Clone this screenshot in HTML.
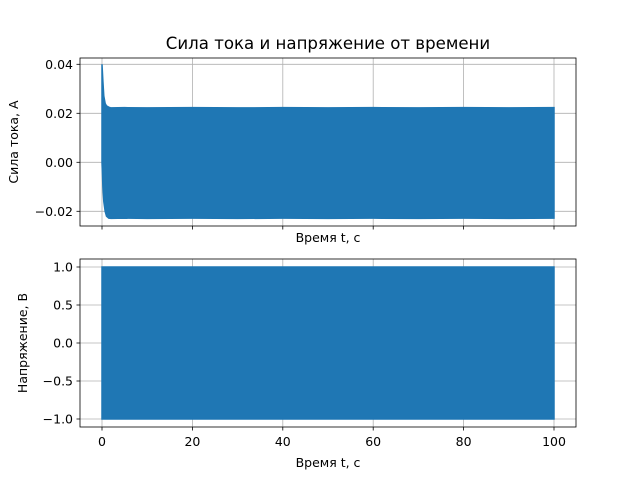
<!DOCTYPE html>
<html><head><meta charset="utf-8"><style>body{margin:0;background:#fff}svg{display:block;font-family:"DejaVu Sans","Liberation Sans",sans-serif}</style></head>
<body>
<svg id="fig" width="640" height="480">
<text x="328" y="49" font-size="16.6" text-anchor="middle">Сила тока и напряжение от времени</text>
<g id="top"></g>
<g id="bot"></g>
</svg>
<script>
const tTimes = [0, 0.2, 0.4, 0.7, 1.0, 1.5, 2, 5, 10, 20, 30, 40, 50, 60, 70, 80, 90, 100];
const currentUpper = [0.040, 0.033, 0.027, 0.024, 0.023, 0.0225, 0.0222, 0.0223, 0.0222, 0.0223, 0.0222, 0.0223, 0.0222, 0.0223, 0.0222, 0.0223, 0.0222, 0.0223];
const currentLower = [0.000, -0.010, -0.016, -0.020, -0.022, -0.0228, -0.0229, -0.0228, -0.0229, -0.0228, -0.0229, -0.0228, -0.0229, -0.0228, -0.0229, -0.0228, -0.0229, -0.0228];
const vTimes = [0, 100];
const voltageUpper = [1, 1];
const voltageLower = [-1, -1];
const xTicks = [0, 20, 40, 60, 80, 100];
const yTicksTop = [0.04, 0.02, 0.00, -0.02];
const yTicksTopLabels = ["0.04", "0.02", "0.00", "\u22120.02"];
const yTicksBot = [1.0, 0.5, 0.0, -0.5, -1.0];
const yTicksBotLabels = ["1.0", "0.5", "0.0", "\u22120.5", "\u22121.0"];

const NS = "http://www.w3.org/2000/svg";
function mk(p, tag, a) { const e = document.createElementNS(NS, tag); for (const k in a) e.setAttribute(k, a[k]); p.appendChild(e); return e; }
const L = 80, R = 576;
const xs = t => 102 + t * 4.52;
const FS = 12.5;

function panel(g, top, bottom, ys, yt, ylab, tx, up, lo, showXLabels, yTitle, yTitleX) {
  for (const t of xTicks) {
    const gl = mk(g, "line", {x1: xs(t), x2: xs(t), y1: top, y2: bottom, stroke: "#b0b0b0", "stroke-width": 0.8});
    
    
  }
  yt.forEach(v => {
    const gl = mk(g, "line", {x1: L, x2: R, y1: ys(v), y2: ys(v), stroke: "#b0b0b0", "stroke-width": 0.8});
    
    
  });
  let d = "";
  tx.forEach((t, i) => d += (i ? "L" : "M") + xs(t) + "," + ys(up[i]));
  for (let i = tx.length - 1; i >= 0; i--) d += "L" + xs(tx[i]) + "," + ys(lo[i]);
  const area = mk(g, "path", {d: d + "Z", fill: "#1f77b4", stroke: "#1f77b4", "stroke-width": 1.5});
  
  
  const fr = mk(g, "rect", {x: L, y: top, width: R - L, height: bottom - top, fill: "none", stroke: "#000", "stroke-width": 0.8});
  
  
  for (const t of xTicks) {
    const tk = mk(g, "line", {x1: xs(t), x2: xs(t), y1: bottom, y2: bottom + 3.5, stroke: "#000", "stroke-width": 0.8});
    
    
    if (showXLabels) {
      const tl = mk(g, "text", {x: xs(t), y: bottom + 19, "font-size": FS, "text-anchor": "middle"});
      tl.textContent = t;
      
      
    }
  }
  yt.forEach((v, i) => {
    const tk = mk(g, "line", {x1: L - 3.5, x2: L, y1: ys(v), y2: ys(v), stroke: "#000", "stroke-width": 0.8});
    
    
    const tl = mk(g, "text", {x: L - 7, y: ys(v) + 4.5, "font-size": FS, "text-anchor": "end"});
    tl.textContent = ylab[i];
    
    
  });
  const xt = mk(g, "text", {x: 328, y: bottom + (showXLabels ? 40 : 16), "font-size": FS, "text-anchor": "middle"});
  xt.textContent = "Время t, с";
  
  
  const cy = (top + bottom) / 2;
  const yT = mk(g, "text", {x: yTitleX, y: cy, "font-size": FS, "text-anchor": "middle", transform: `rotate(-90 ${yTitleX} ${cy})`});
  yT.textContent = yTitle;
  
  
}
panel(document.getElementById("top"), 58, 226, v => 162.3 - v * 2450, yTicksTop, yTicksTopLabels, tTimes, currentUpper, currentLower, false, "Сила тока, А", 18);
panel(document.getElementById("bot"), 259, 427, v => 343 - v * 76, yTicksBot, yTicksBotLabels, vTimes, voltageUpper, voltageLower, true, "Напряжение, В", 27);
</script>
</body></html>
